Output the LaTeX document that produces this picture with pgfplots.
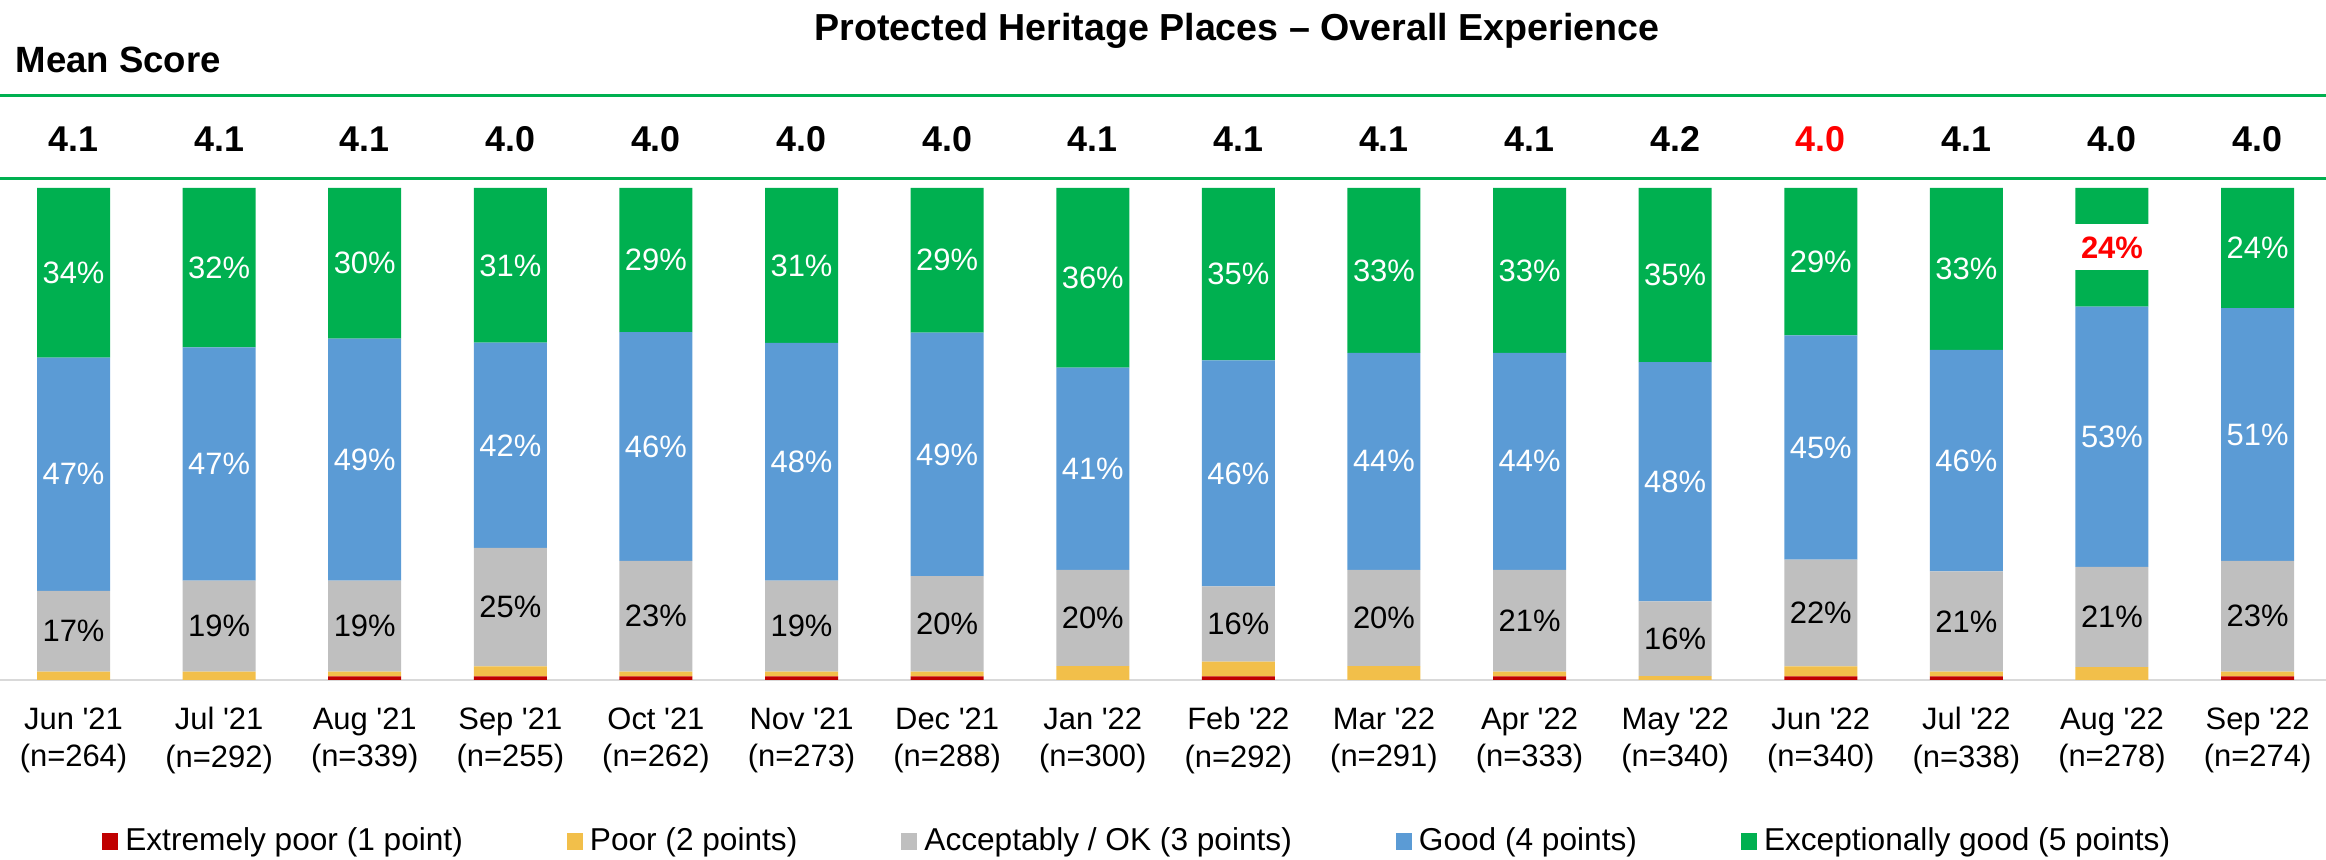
\documentclass[border=0pt]{standalone}
\usepackage{pgfplots}
\pgfplotsset{compat=1.18}
\usepackage{pgfplotstable}
\usepackage{fontspec}
\setmainfont{Liberation Sans}
\definecolor{cEP}{HTML}{C00000}
\definecolor{cP}{HTML}{F2BF4A}
\definecolor{cOK}{HTML}{BFBFBF}
\definecolor{cG}{HTML}{5B9BD5}
\definecolor{cX}{HTML}{00B050}
\definecolor{cLine}{HTML}{00B050}
\newcommand\q{\textquotesingle}

\pgfplotstableread{
x  ep    poor  ok    good  exc    okl goodl excl hl
0  0     1.7   16.4  47.4  34.5   17  47    34   0
1  0     1.7   18.5  47.4  32.4   19  47    32   0
2  0.75  0.95  18.5  49.2  30.6   19  49    30   0
3  0.75  2.0   24.1  41.7  31.45  25  42    31   0
4  0.75  0.95  22.5  46.5  29.3   23  46    29   0
5  0.75  0.95  18.5  48.3  31.5   19  48    31   0
6  0.75  0.95  19.4  49.5  29.4   20  49    29   0
7  0     2.8   19.6  41.1  36.5   20  41    36   0
8  0.75  3.0   15.3  45.9  35.05  16  46    35   0
9  0     2.8   19.6  44.1  33.5   20  44    33   0
10 0.75  0.95  20.7  44.1  33.5   21  44    33   0
11 0     0.8   15.2  48.6  35.4   16  48    35   0
12 0.75  2.0   21.7  45.6  29.95  22  45    29   0
13 0.75  0.95  20.4  45.0  32.9   21  46    33   0
14 0     2.6   20.4  52.9  24.1   21  53    24   1
15 0.75  0.95  22.5  51.4  24.4   23  51    24   0
}\data

\begin{document}
\begin{tikzpicture}
\path[use as bounding box] (0,0) rectangle (232.6mm,86mm);
\begin{axis}[
  at={(0mm,18mm)}, anchor=south west, scale only axis,
  width=232.6mm, height=49.2mm,
  xmin=-0.505, xmax=15.47, ymin=0, ymax=100,
  ybar stacked, bar width=7.3mm,
  axis y line=none, axis x line*=bottom,
  axis line style={draw=black!15, line width=0.25mm, -},
  xtick={0,...,15}, major tick length=0,
  /pgf/number format/assume math mode=true,
  xticklabels={{Jun \q21\\(n=264)},{Jul \q21\\(n=292)},{Aug \q21\\(n=339)},{Sep \q21\\(n=255)},{Oct \q21\\(n=262)},{Nov \q21\\(n=273)},{Dec \q21\\(n=288)},{Jan \q22\\(n=300)},{Feb \q22\\(n=292)},{Mar \q22\\(n=291)},{Apr \q22\\(n=333)},{May \q22\\(n=340)},{Jun \q22\\(n=340)},{Jul \q22\\(n=338)},{Aug \q22\\(n=278)},{Sep \q22\\(n=274)}},
  xticklabel style={align=center, font=\fontsize{8.8}{10.6}\selectfont, yshift=-1.5mm},
  clip=false,
  legend style={at={(0.49,-0.329)}, anchor=center, draw=none, fill=none,
    legend columns=5, font=\fontsize{9}{11}\selectfont,
    /tikz/every even column/.append style={column sep=9.7mm}},
  legend image code/.code={\fill[#1] (0mm,-0.85mm) rectangle (1.6mm,0.85mm);},
]
\addplot[fill=cEP, draw=none] table[x=x,y=ep]{\data};
\addlegendentry{Extremely poor (1 point)}
\addplot[fill=cP, draw=none] table[x=x,y=poor]{\data};
\addlegendentry{Poor (2 points)}
\addplot[fill=cOK, draw=none, point meta=\thisrow{okl},
  nodes near coords={\pgfmathprintnumber{\pgfplotspointmeta}\%},
  every node near coord/.append style={anchor=center, font=\fontsize{8.8}{10}\selectfont, text=black}]
  table[x=x,y=ok]{\data};
\addlegendentry{Acceptably / OK (3 points)}
\addplot[fill=cG, draw=none, point meta=\thisrow{goodl},
  nodes near coords={\pgfmathprintnumber{\pgfplotspointmeta}\%},
  every node near coord/.append style={anchor=center, font=\fontsize{8.8}{10}\selectfont, text=white}]
  table[x=x,y=good]{\data};
\addlegendentry{Good (4 points)}
\addplot[fill=cX, draw=none, point meta=\thisrow{excl},
  visualization depends on={\thisrow{hl}\as\hlf},
  nodes near coords={\ifdim\hlf pt>0.5pt {\setlength{\fboxsep}{0pt}\colorbox{white}{\makebox[7.5mm]{\rule[-1.2mm]{0pt}{4.6mm}\textcolor{red}{\bfseries\pgfmathprintnumber{\pgfplotspointmeta}\%}}}}\else\pgfmathprintnumber{\pgfplotspointmeta}\%\fi},
  every node near coord/.append style={anchor=center, font=\fontsize{8.8}{10}\selectfont, text=white}]
  table[x=x,y=exc]{\data};
\addlegendentry{Exceptionally good (5 points)}
\end{axis}

\begin{axis}[
  at={(0mm,18mm)}, anchor=south west, scale only axis,
  width=232.6mm, height=49.2mm,
  xmin=-0.505, xmax=15.47, ymin=0, ymax=100,
  axis y line=none, axis x line*=top,
  axis line style={draw=none},
  xtick={0,...,15}, major tick length=0,
  xticklabels={4.1,4.1,4.1,4.0,4.0,4.0,4.0,4.1,4.1,4.1,4.1,4.2,\textcolor{red}{4.0},4.1,4.0,4.0},
  xticklabel style={anchor=base, yshift=3.6mm, font=\bfseries\fontsize{10.2}{12}\selectfont},
  clip=false,
]
\addplot[draw=none] coordinates {(0,0)};
\end{axis}

\draw[cLine, line width=0.3mm] (0,76.4mm) -- (232.6mm,76.4mm);
\draw[cLine, line width=0.3mm] (0,68.1mm) -- (232.6mm,68.1mm);
\node[anchor=base west, font=\bfseries\fontsize{10.4}{12}\selectfont, inner sep=0] at (1.5mm,78.7mm) {Mean Score};
\node[anchor=base, font=\bfseries\fontsize{10.7}{12}\selectfont, inner sep=0] at (123.7mm,81.9mm) {Protected Heritage Places – Overall Experience};
\end{tikzpicture}
\end{document}
